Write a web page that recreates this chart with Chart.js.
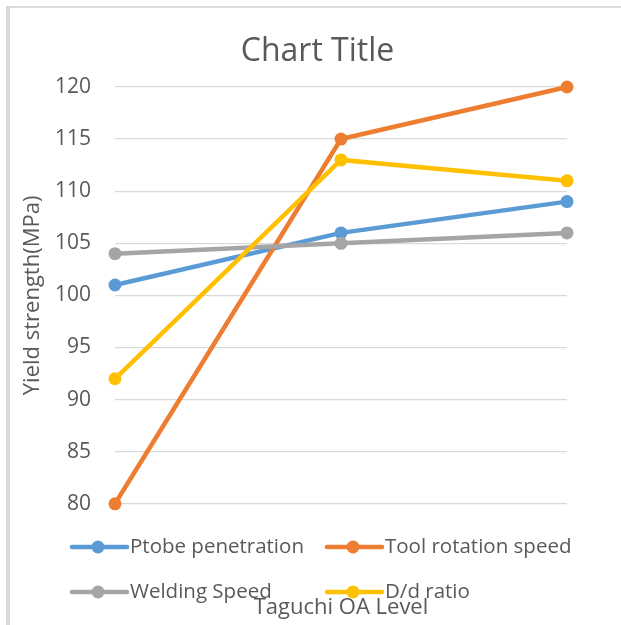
<!DOCTYPE html>
<html>
<head>
<meta charset="utf-8">
<script src="https://cdn.jsdelivr.net/npm/chart.js@4/dist/chart.umd.min.js"></script>
<style>
  html, body { margin: 0; padding: 0; background: #ffffff; }
  #wrap { position: relative; width: 621px; height: 625px; overflow: hidden; }
  #frameLeft { position: absolute; left: 6px; top: 6px; width: 4px; height: 619px; background: #d9d9d9; }
  #frameTop { position: absolute; left: 10px; top: 6px; width: 611px; height: 2px; background: #dcdcdc; }
  canvas { position: absolute; left: 0; top: 0; }
</style>
</head>
<body>
<div id="wrap">
  <div id="frameLeft"></div>
  <div id="frameTop"></div>
  <canvas id="chart" width="621" height="625"></canvas>
</div>
<script>
// Taguchi orthogonal-array levels (category axis, labels not shown)
const levels = ['1', '2', '3'];

// Yield strength (MPa) per factor at each level
const ptobePenetration = [101, 106, 109];
const toolRotationSpeed = [80, 115, 120];
const weldingSpeed = [104, 105, 106];
const dRatio = [92, 113, 111];

const seriesNames = ['Ptobe penetration', 'Tool rotation speed', 'Welding Speed', 'D/d ratio'];
const seriesColors = ['#5B9BD5', '#ED7D31', '#A5A5A5', '#FFC000'];

// Y-axis range and step
const yMin = 80;
const yMax = 120;
const yStep = 5;

const textColor = '#595959';
const fontFamily = '"Open Sans", "Liberation Sans", sans-serif';

function makeDataset(i, values) {
  return {
    label: seriesNames[i],
    data: values,
    borderColor: seriesColors[i],
    backgroundColor: seriesColors[i],
    pointBackgroundColor: seriesColors[i],
    pointBorderColor: seriesColors[i],
    borderWidth: 4.5,
    pointRadius: 6.5,
    pointBorderWidth: 0,
    pointHoverRadius: 6.5,
    tension: 0,
    clip: false,
    order: 3 - i
  };
}

// Legend drawn as a two-column grid below the plot: line sample with a marker
const gridLegend = {
  id: 'gridLegend',
  afterDraw(chart) {
    const ctx = chart.ctx;
    const cols = [72, 327];
    const rows = [547, 592];
    ctx.save();
    ctx.font = '20.5px ' + fontFamily;
    ctx.textBaseline = 'middle';
    ctx.textAlign = 'left';
    chart.data.datasets.forEach((ds, i) => {
      const x = cols[i % 2];
      const y = rows[Math.floor(i / 2)];
      ctx.strokeStyle = ds.borderColor;
      ctx.lineWidth = 4.5;
      ctx.lineCap = 'round';
      ctx.beginPath();
      ctx.moveTo(x, y);
      ctx.lineTo(x + 55, y);
      ctx.stroke();
      ctx.fillStyle = ds.borderColor;
      ctx.beginPath();
      ctx.arc(x + 26, y, 6.5, 0, Math.PI * 2);
      ctx.fill();
      ctx.fillStyle = textColor;
      ctx.fillText(ds.label, x + 58, y);
    });
    ctx.restore();
  }
};

new Chart(document.getElementById('chart'), {
  type: 'line',
  data: {
    labels: levels,
    datasets: [
      makeDataset(0, ptobePenetration),
      makeDataset(1, toolRotationSpeed),
      makeDataset(2, weldingSpeed),
      makeDataset(3, dRatio)
    ]
  },
  options: {
    responsive: false,
    animation: false,
    events: [],
    layout: { padding: { left: 14, right: 0, top: 0, bottom: 4 } },
    plugins: {
      legend: { display: false },
      tooltip: { enabled: false },
      title: {
        display: true,
        text: 'Chart Title',
        color: textColor,
        font: { family: fontFamily, size: 32, weight: 'normal' },
        padding: { top: 32.8, bottom: 15.8 }
      }
    },
    scales: {
      x: {
        type: 'category',
        offset: false,
        grid: { display: false, drawTicks: false },
        border: { display: false },
        ticks: { display: false },
        title: {
          display: true,
          text: 'Taguchi OA Level',
          color: textColor,
          font: { family: fontFamily, size: 22, weight: 'normal' },
          padding: { top: 90.8, bottom: 0 }
        }
      },
      y: {
        min: yMin,
        max: yMax,
        grid: { color: '#d9d9d9', lineWidth: 1.3, drawTicks: false },
        border: { display: false },
        ticks: {
          stepSize: yStep,
          padding: 24,
          color: textColor,
          font: { family: fontFamily, size: 21 }
        },
        title: {
          display: true,
          text: 'Yield strength(MPa)',
          color: textColor,
          font: { family: fontFamily, size: 22, weight: 'normal' },
          padding: { top: 5.8, bottom: 0 }
        },
        afterFit(scale) { scale.width = 101; }
      },
      // empty right-hand margin of the plot area
      yRight: {
        position: 'right',
        min: yMin,
        max: yMax,
        grid: { display: false, drawTicks: false },
        border: { display: false },
        ticks: { display: false },
        afterFit(scale) { scale.width = 54; }
      }
    }
  },
  plugins: [gridLegend]
});
</script>
</body>
</html>
